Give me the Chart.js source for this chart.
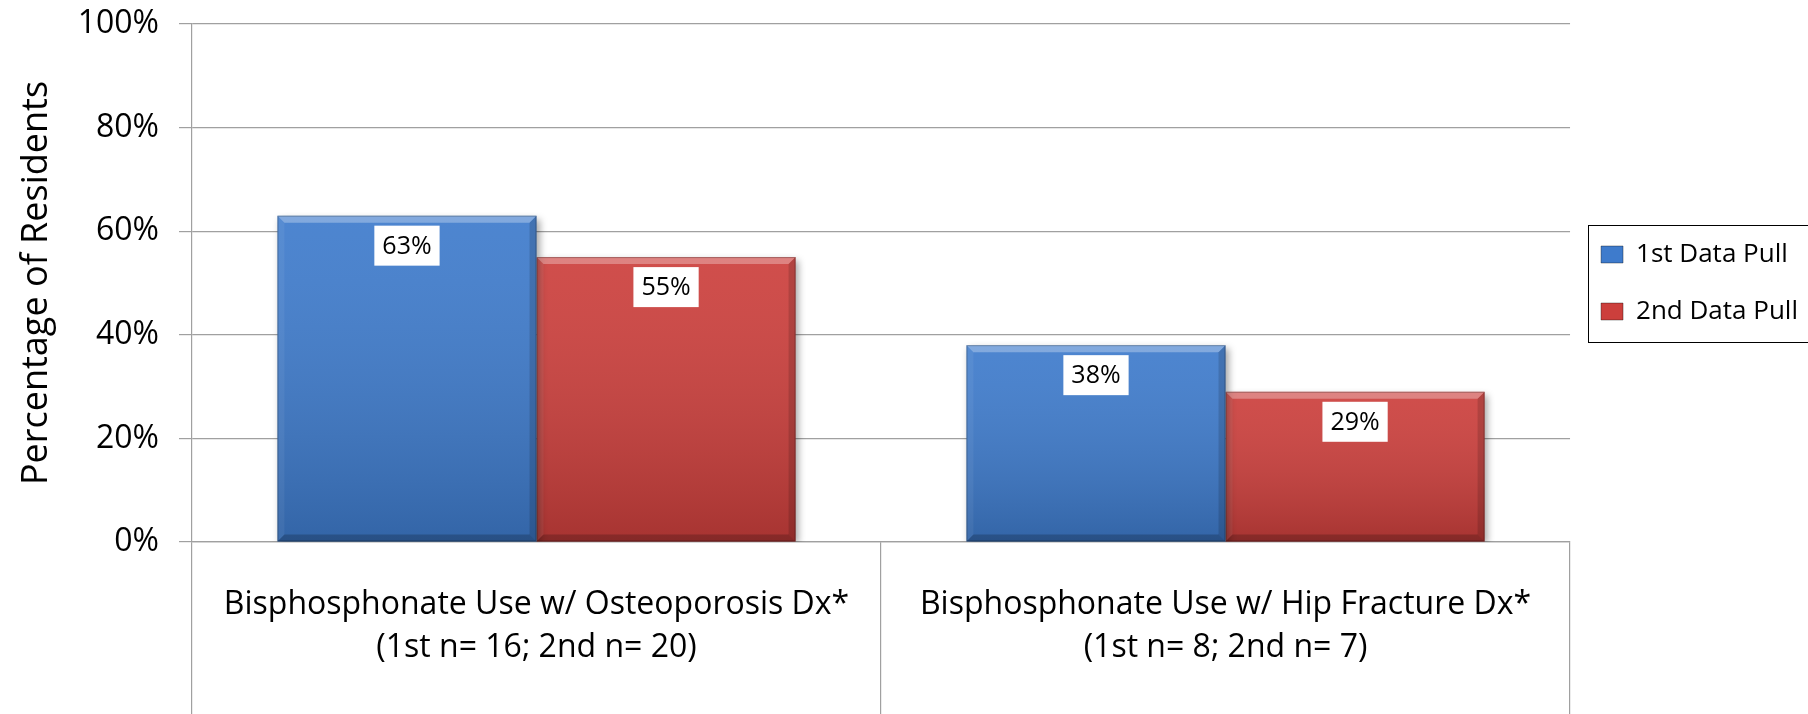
<!DOCTYPE html>
<html>
<head>
<meta charset="utf-8">
<script src="https://cdn.jsdelivr.net/npm/chart.js@4/dist/chart.umd.min.js"></script>
<style>
  body { margin: 0; background: #fff; }
  canvas { display: block; }
</style>
</head>
<body>
<canvas id="myChart" width="1808" height="714"></canvas>
<script>
// chart data
const categories = [
  ['Bisphosphonate Use w/ Osteoporosis Dx*', '(1st n= 16; 2nd n= 20)'],
  ['Bisphosphonate Use w/ Hip Fracture Dx*', '(1st n= 8; 2nd n= 7)']
];
const series_names = ['1st Data Pull', '2nd Data Pull'];
const first_pull = [63, 38];
const second_pull = [55, 29];
const y_ticks = [0, 20, 40, 60, 80, 100];
const y_title = 'Percentage of Residents';

const blue = '#3e7bcc';
const red = '#cc3f3c';
const grid_gray = '#a0a0a0';

// bevel + gradient look on each bar, and the white value boxes
const barLook = {
  id: 'barLook',
  beforeDatasetsDraw(chart) {
    let ctx = chart.ctx;
    ctx.save();
    ctx.shadowColor = 'rgba(0,0,0,0.35)';
    ctx.shadowBlur = 7;
    ctx.shadowOffsetX = 3;
    ctx.shadowOffsetY = 3;
  },
  afterDatasetsDraw(chart) {
    let ctx = chart.ctx;
    ctx.restore();
    chart.data.datasets.forEach((ds, i) => {
      let meta = chart.getDatasetMeta(i);
      meta.data.forEach((bar, j) => {
        let left = bar.x - bar.width / 2;
        let right = bar.x + bar.width / 2;
        let top = bar.y;
        let bottom = bar.base;
        let b = 7;
        // vertical shading
        let g = ctx.createLinearGradient(0, top, 0, bottom);
        g.addColorStop(0, 'rgba(255,255,255,0.08)');
        g.addColorStop(1, 'rgba(0,0,0,0.18)');
        ctx.fillStyle = g;
        ctx.fillRect(left, top, right - left, bottom - top);
        // bevel edges
        let poly = (pts, color) => {
          ctx.beginPath();
          ctx.moveTo(pts[0][0], pts[0][1]);
          pts.slice(1).forEach(p => ctx.lineTo(p[0], p[1]));
          ctx.closePath();
          ctx.fillStyle = color;
          ctx.fill();
        };
        poly([[left, top], [right, top], [right - b, top + b], [left + b, top + b]], 'rgba(255,255,255,0.3)');
        poly([[left, top], [left + b, top + b], [left + b, bottom - b], [left, bottom]], 'rgba(255,255,255,0.06)');
        poly([[right, top], [right - b, top + b], [right - b, bottom - b], [right, bottom]], 'rgba(0,0,0,0.14)');
        poly([[left, bottom], [left + b, bottom - b], [right - b, bottom - b], [right, bottom]], 'rgba(0,0,0,0.2)');
        ctx.strokeStyle = 'rgba(0,0,0,0.25)';
        ctx.lineWidth = 1;
        ctx.strokeRect(left + 0.5, top + 0.5, right - left - 1, bottom - top - 1);

        // value label
        let text = ds.data[j] + '%';
        ctx.font = "25px 'Open Sans'";
        let tw = ctx.measureText(text).width;
        let bw = tw + 16, bh = 40;
        ctx.fillStyle = '#ffffff';
        ctx.fillRect(bar.x - bw / 2, top + 10, bw, bh);
        ctx.fillStyle = '#000000';
        ctx.textAlign = 'center';
        ctx.textBaseline = 'middle';
        ctx.fillText(text, bar.x, top + 10 + bh / 2 + 1);
      });
    });
  }
};

// keep the legend centred on the plot area, and draw its border
const legendBox = {
  id: 'legendBox',
  afterLayout(chart) {
    let lg = chart.legend;
    if (!lg) return;
    lg.top = chart.chartArea.top;
    lg.bottom = chart.chartArea.bottom;
  },
  afterDraw(chart) {
    let lg = chart.legend;
    if (!lg || !lg.legendHitBoxes.length) return;
    let boxes = lg.legendHitBoxes;
    let left = Math.min(...boxes.map(h => h.left)) - 13;
    let right = Math.max(...boxes.map(h => h.left + h.width)) + 13;
    let top = Math.min(...boxes.map(h => h.top)) - 17;
    let bottom = Math.max(...boxes.map(h => h.top + h.height)) + 17;
    let ctx = chart.ctx;
    ctx.save();
    ctx.strokeStyle = '#000';
    ctx.lineWidth = 1;
    ctx.strokeRect(Math.round(left) + 0.5, Math.round(top) + 0.5, Math.round(right - left), Math.round(bottom - top));
    ctx.restore();
  }
};

Chart.defaults.font.family = "'Open Sans', sans-serif";
Chart.defaults.color = '#000';

let myChart = document.getElementById('myChart').getContext('2d');
let bar_chart = new Chart(myChart, {
  type: 'bar',
  data: {
    labels: categories,
    datasets: [
      { label: series_names[0], data: first_pull, backgroundColor: blue },
      { label: series_names[1], data: second_pull, backgroundColor: red }
    ]
  },
  options: {
    responsive: false,
    animation: false,
    layout: { padding: { top: 24, right: 0, left: 0, bottom: 0 } },
    datasets: {
      bar: { barPercentage: 1, categoryPercentage: 0.752 }
    },
    plugins: {
      tooltip: { enabled: false },
      legend: {
        position: 'right',
        labels: {
          boxWidth: 22,
          boxHeight: 17,
          padding: 31,
          font: { size: 26 },
          color: '#000',
          generateLabels: function (chart) {
            return chart.data.datasets.map((ds, i) => ({
              text: ds.label,
              fillStyle: ds.backgroundColor,
              strokeStyle: 'rgba(0,0,0,0.35)',
              lineWidth: 1,
              datasetIndex: i
            }));
          }
        }
      }
    },
    scales: {
      x: {
        border: { display: true, color: grid_gray, width: 1.2 },
        grid: {
          offset: true,
          drawOnChartArea: false,
          drawTicks: true,
          tickLength: 172,
          color: grid_gray,
          lineWidth: 1.2
        },
        ticks: {
          padding: -131,
          font: { size: 32, lineHeight: 1.35 },
          color: '#000',
          maxRotation: 0,
          autoSkip: false
        },
        afterFit: function (scale) { scale.height = 172; }
      },
      y: {
        min: 0,
        max: 100,
        afterBuildTicks: function (axis) {
          axis.ticks = y_ticks.map(v => ({ value: v }));
        },
        border: { display: true, color: grid_gray, width: 1.2 },
        grid: { color: grid_gray, lineWidth: 1.2, tickLength: 13 },
        ticks: {
          padding: 20,
          font: { size: 32 },
          color: '#000',
          callback: function (v) { return v + '%'; }
        },
        title: {
          display: true,
          text: y_title,
          font: { size: 36 },
          color: '#000',
          padding: { top: 15, bottom: 0 }
        },
        afterFit: function (scale) {
          scale.width = 192;
          scale.paddingTop = 0;
          scale.paddingBottom = 0;
        }
      }
    }
  },
  plugins: [barLook, legendBox]
});
</script>
</body>
</html>
